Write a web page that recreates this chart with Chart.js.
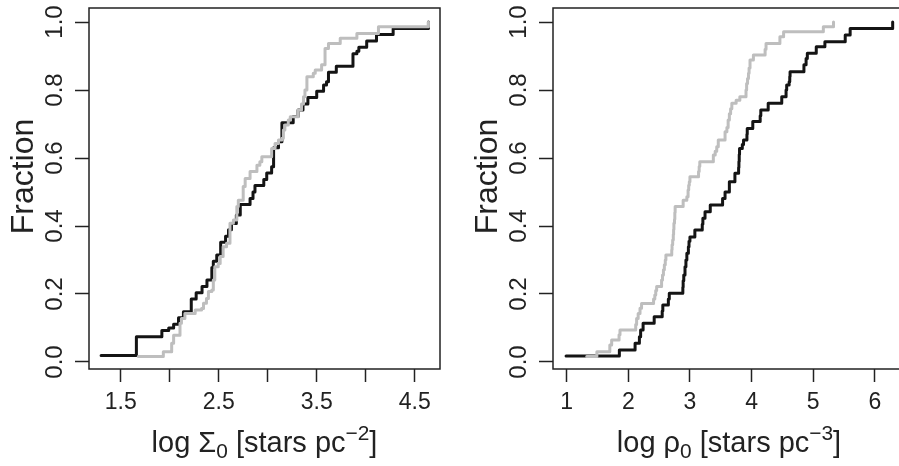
<!DOCTYPE html>
<html>
<head>
<meta charset="utf-8">
<title>Cumulative fractions of central surface and volume density</title>
<script src="https://cdn.jsdelivr.net/npm/chart.js@4.4.1/dist/chart.umd.min.js"></script>
<style>
  html, body { margin: 0; padding: 0; background: #fff; overflow: hidden; }
  body { width: 899px; height: 466px; position: relative; }
  canvas { position: absolute; top: 0; }
  #sigmaChart { left: 0; }
  #rhoChart { left: 460px; }
</style>
</head>
<body>
<canvas id="sigmaChart" width="450" height="466"></canvas>
<canvas id="rhoChart" width="455" height="466"></canvas>
<script>
// log Sigma_0 [stars pc^-2] : step points (x, cumulative fraction)
const sigmaBlackX = [1.30, 1.66, 1.92, 1.99, 2.04, 2.09, 2.14, 2.22, 2.27, 2.33, 2.38, 2.43, 2.445, 2.48, 2.52,
  2.57, 2.60, 2.63, 2.68, 2.72, 2.82, 2.85, 2.87, 2.96, 2.99, 3.04, 3.06, 3.11, 3.145, 3.26,
  3.31, 3.36, 3.41, 3.50, 3.57, 3.60, 3.62, 3.70, 3.87, 3.91, 3.93, 4.01, 4.11, 4.28, 4.64];
const sigmaBlackY = [0.019, 0.074, 0.093, 0.100, 0.111, 0.130, 0.148, 0.185, 0.204, 0.222, 0.241, 0.278, 0.296, 0.315, 0.352,
  0.370, 0.389, 0.407, 0.432, 0.463, 0.481, 0.500, 0.519, 0.537, 0.556, 0.574, 0.630, 0.648, 0.704, 0.722,
  0.741, 0.759, 0.778, 0.796, 0.815, 0.824, 0.852, 0.870, 0.907, 0.914, 0.926, 0.944, 0.963, 0.981, 1.0];
const sigmaGrayX = [1.68, 1.935, 2.02, 2.04, 2.105, 2.12, 2.155, 2.26, 2.325, 2.345, 2.375, 2.395, 2.43, 2.445, 2.46,
  2.495, 2.515, 2.545, 2.58, 2.615, 2.65, 2.685, 2.70, 2.75, 2.77, 2.82, 2.89, 2.92, 2.94, 3.04,
  3.075, 3.11, 3.145, 3.16, 3.175, 3.21, 3.23, 3.31, 3.345, 3.365, 3.38, 3.40, 3.465, 3.485, 3.55,
  3.585, 3.62, 3.74, 3.91, 4.13, 4.64];
const sigmaGrayY = [0.016, 0.030, 0.055, 0.079, 0.114, 0.128, 0.143, 0.153, 0.157, 0.173, 0.187, 0.207, 0.212, 0.241, 0.280,
  0.290, 0.310, 0.339, 0.349, 0.408, 0.418, 0.457, 0.476, 0.516, 0.540, 0.560, 0.579, 0.589, 0.604, 0.628,
  0.643, 0.653, 0.658, 0.682, 0.697, 0.712, 0.721, 0.741, 0.759, 0.780, 0.800, 0.839, 0.849, 0.859, 0.874,
  0.922, 0.937, 0.952, 0.966, 0.986, 1.0];
const sigmaTicks = [1.5, 2.0, 2.5, 3.0, 3.5, 4.0, 4.5];
const sigmaTickLabels = ['1.5', '', '2.5', '', '3.5', '', '4.5'];

// log rho_0 [stars pc^-3]
const rhoBlackX = [0.99, 1.855, 2.11, 2.18, 2.20, 2.24, 2.42, 2.55, 2.56, 2.65, 2.665, 2.885, 2.89, 2.90, 2.92,
  2.935, 2.95, 2.975, 2.985, 3.0, 3.08, 3.20, 3.21, 3.245, 3.33, 3.53, 3.57, 3.64, 3.73, 3.79,
  3.795, 3.80, 3.805, 3.85, 3.87, 3.925, 3.93, 4.02, 4.14, 4.15, 4.27, 4.49, 4.56, 4.57, 4.61,
  4.62, 4.625, 4.85, 4.885, 4.905, 5.05, 5.19, 5.52, 5.60, 6.29];
const rhoBlackY = [0.018, 0.035, 0.055, 0.074, 0.094, 0.114, 0.133, 0.150, 0.168, 0.185, 0.202, 0.220, 0.239, 0.256, 0.280,
  0.300, 0.320, 0.339, 0.355, 0.368, 0.388, 0.405, 0.423, 0.442, 0.462, 0.481, 0.500, 0.530, 0.555, 0.572,
  0.590, 0.610, 0.628, 0.640, 0.653, 0.670, 0.687, 0.707, 0.724, 0.741, 0.761, 0.780, 0.800, 0.815, 0.824,
  0.840, 0.854, 0.874, 0.893, 0.908, 0.927, 0.942, 0.962, 0.981, 1.0];
const rhoGrayX = [1.325, 1.49, 1.70, 1.73, 1.85, 1.865, 2.12, 2.135, 2.16, 2.19, 2.215, 2.41, 2.43, 2.445, 2.46,
  2.54, 2.555, 2.57, 2.585, 2.60, 2.61, 2.705, 2.71, 2.72, 2.73, 2.735, 2.74, 2.75, 2.755, 2.76,
  2.89, 2.95, 2.97, 2.98, 2.99, 3.0, 3.14, 3.15, 3.16, 3.38, 3.41, 3.435, 3.46, 3.57, 3.60,
  3.62, 3.64, 3.66, 3.68, 3.75, 3.81, 3.91, 3.92, 3.935, 3.95, 3.96, 3.975, 4.03, 4.22, 4.235,
  4.46, 4.52, 5.165, 5.33];
const rhoGrayY = [0.016, 0.030, 0.050, 0.065, 0.080, 0.094, 0.110, 0.128, 0.143, 0.158, 0.172, 0.185, 0.197, 0.210, 0.222,
  0.241, 0.256, 0.271, 0.286, 0.300, 0.315, 0.330, 0.345, 0.359, 0.375, 0.390, 0.408, 0.420, 0.440, 0.457,
  0.476, 0.486, 0.506, 0.520, 0.530, 0.545, 0.560, 0.575, 0.589, 0.609, 0.620, 0.633, 0.653, 0.677, 0.690,
  0.712, 0.730, 0.745, 0.761, 0.770, 0.780, 0.800, 0.819, 0.834, 0.849, 0.865, 0.888, 0.903, 0.920, 0.937,
  0.957, 0.971, 0.986, 1.0];
const rhoTicks = [1, 2, 3, 4, 5, 6];
const rhoTickLabels = ['1', '2', '3', '4', '5', '6'];

const fractionTicks = [0, 0.2, 0.4, 0.6, 0.8, 1.0];
const fractionTickLabels = ['0.0', '0.2', '0.4', '0.6', '0.8', '1.0'];

const INK = '#222';
const FONT = '"Liberation Sans", Arial, Helvetica, sans-serif';
const BLACK_LINE = '#141414';
const GRAY_LINE = '#bebebe';

const toPoints = (xs, ys) => xs.map((x, i) => ({ x, y: ys[i] }));

// draws a run of text pieces (with sub/superscripts) centred on cx
const drawRichText = (ctx, parts, cx, baseline, size) => {
  const widths = parts.map(([text, scale]) => {
    ctx.font = `${size * scale}px ${FONT}`;
    return ctx.measureText(text).width;
  });
  let x = cx - widths.reduce((a, b) => a + b, 0) / 2;
  parts.forEach(([text, scale, shift], i) => {
    ctx.font = `${size * scale}px ${FONT}`;
    ctx.fillText(text, x, baseline + shift * size);
    x += widths[i];
  });
};

const framePlugin = {
  id: 'frame',
  afterDraw(chart, args, opts) {
    const { ctx, chartArea: area, scales } = chart;
    ctx.save();
    ctx.strokeStyle = INK;
    ctx.lineWidth = 1.5;
    ctx.strokeRect(area.left, area.top, area.right - area.left, area.bottom - area.top);

    ctx.fillStyle = INK;
    ctx.textAlign = 'center';
    ctx.textBaseline = 'alphabetic';

    // y tick labels run along the axis, as in base R graphics
    ctx.font = `24px ${FONT}`;
    scales.y.ticks.forEach((tick, i) => {
      ctx.save();
      ctx.translate(area.left - 27, scales.y.getPixelForValue(tick.value));
      ctx.rotate(-Math.PI / 2);
      ctx.fillText(fractionTickLabels[i], 0, 0);
      ctx.restore();
    });

    ctx.save();
    ctx.font = `32px ${FONT}`;
    ctx.translate(area.left - 56, (area.top + area.bottom) / 2 - 12);
    ctx.rotate(-Math.PI / 2);
    ctx.fillText('Fraction', 0, 0);
    ctx.restore();

    ctx.textAlign = 'left';
    drawRichText(ctx, opts.xTitle, (area.left + area.right) / 2, area.bottom + 83, 29);
    ctx.restore();
  }
};

const makePanel = (canvasId, panel) => new Chart(document.getElementById(canvasId), {
  type: 'line',
  data: {
    datasets: [
      { data: toPoints(panel.grayX, panel.grayY), borderColor: GRAY_LINE },
      { data: toPoints(panel.blackX, panel.blackY), borderColor: BLACK_LINE }
    ].map((ds) => ({
      ...ds,
      stepped: 'before',
      borderWidth: 3,
      pointRadius: 0,
      fill: false,
      borderCapStyle: 'round',
      borderJoinStyle: 'round'
    }))
  },
  options: {
    responsive: false,
    animation: false,
    events: [],
    layout: { padding: { top: 8, right: panel.padRight, left: 0, bottom: 0 } },
    plugins: {
      legend: { display: false },
      tooltip: { enabled: false },
      frame: { xTitle: panel.xTitle }
    },
    scales: {
      x: {
        type: 'linear',
        min: panel.xMin,
        max: panel.xMax,
        afterBuildTicks: (axis) => { axis.ticks = panel.ticks.map((value) => ({ value })); },
        afterFit: (axis) => { axis.height = 97; },
        border: { display: false },
        grid: { drawOnChartArea: false, drawTicks: true, tickLength: 13, tickWidth: 1.5, tickColor: INK },
        ticks: {
          autoSkip: false,
          maxRotation: 0,
          minRotation: 0,
          padding: 7,
          color: INK,
          font: { family: FONT, size: 23 },
          callback: (value, i) => panel.tickLabels[i]
        }
      },
      y: {
        type: 'linear',
        min: -0.0206,
        max: 1.0412,
        afterBuildTicks: (axis) => { axis.ticks = fractionTicks.map((value) => ({ value })); },
        afterFit: (axis) => { axis.width = panel.yWidth; },
        border: { display: false },
        grid: { drawOnChartArea: false, drawTicks: true, tickLength: 14, tickWidth: 1.5, tickColor: INK },
        ticks: { display: false }
      }
    }
  },
  plugins: [framePlugin]
});

makePanel('sigmaChart', {
  grayX: sigmaGrayX, grayY: sigmaGrayY,
  blackX: sigmaBlackX, blackY: sigmaBlackY,
  ticks: sigmaTicks, tickLabels: sigmaTickLabels,
  xMin: 1.1765, xMax: 4.758,
  yWidth: 89, padRight: 10,
  xTitle: [['log \u03A3', 1, 0], ['0', 0.72, 0.22], [' [stars pc', 1, 0], ['\u22122', 0.72, -0.42], [']', 1, 0]]
});

makePanel('rhoChart', {
  grayX: rhoGrayX, grayY: rhoGrayY,
  blackX: rhoBlackX, blackY: rhoBlackY,
  ticks: rhoTicks, tickLabels: rhoTickLabels,
  xMin: 0.778, xMax: 6.49,
  yWidth: 93, padRight: 10,
  xTitle: [['log \u03C1', 1, 0], ['0', 0.72, 0.22], [' [stars pc', 1, 0], ['\u22123', 0.72, -0.42], [']', 1, 0]]
});
</script>
</body>
</html>
